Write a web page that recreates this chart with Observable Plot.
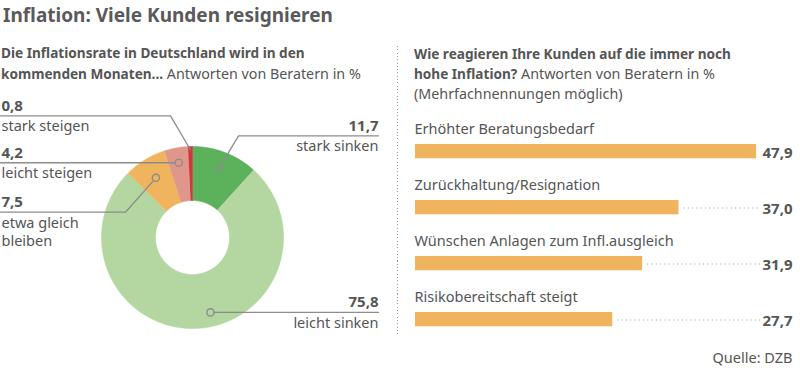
<!DOCTYPE html>
<html><head><meta charset="utf-8">
<script src="https://cdn.jsdelivr.net/npm/d3@7"></script>
<script src="https://cdn.jsdelivr.net/npm/@observablehq/plot@0.6"></script>
<style>
body{margin:0;background:#fff;font-family:"Noto Sans",sans-serif;color:#555;}
#wrap{position:relative;width:800px;height:373px;overflow:hidden;}
.t{position:absolute;white-space:nowrap;}
#title{left:3px;top:3px;font-size:19px;line-height:24px;font-weight:700;color:#5a5a5a;}
#subL{left:1px;top:42px;font-size:14.3px;line-height:21px;}
#subR{left:414px;top:43.5px;font-size:14.3px;line-height:20px;}
b{font-weight:700;font-size:13.6px;}
#sep{position:absolute;left:397px;top:46px;width:1px;height:288px;
 background:repeating-linear-gradient(to bottom,#9a9a9a 0 1px,transparent 1px 3.3px);}
.plot{position:absolute;top:0;}
</style></head>
<body><div id="wrap">
<div class="t" id="title">Inflation: Viele Kunden resignieren</div>
<div class="t" id="subL"><b>Die Inflationsrate in Deutschland wird in den</b><br><b>kommenden Monaten...</b> Antworten von Beratern in %</div>
<div class="t" id="subR"><b>Wie reagieren Ihre Kunden auf die immer noch</b><br><b>hohe Inflation?</b> Antworten von Beratern in %<br>(Mehrfachnennungen möglich)</div>
<div id="sep"></div>
</div>
<script>
// ---------- data ----------
const donutKeys = ["stark sinken", "leicht sinken", "etwa gleich bleiben", "leicht steigen", "stark steigen"];
const donutLabels = [["stark sinken"], ["leicht sinken"], ["etwa gleich", "bleiben"], ["leicht steigen"], ["stark steigen"]];
const donutValues = [11.7, 75.8, 7.5, 4.2, 0.8];
const donutColors = ["#5cb25a", "#b4d6a0", "#f0b35e", "#e0978b", "#d2353c"];

const barCategories = ["Erhöhter Beratungsbedarf", "Zurückhaltung/Resignation", "Wünschen Anlagen zum Infl.ausgleich", "Risikobereitschaft steigt"];
const barValues = [47.9, 37.0, 31.9, 27.7];
const barColor = "#f0b35e";

const fmt = v => d3.format(".1f")(v).replace(".", ",");
const textColor = "#555";
const leaderColor = "#8c8c8c";
const font = "Noto Sans";

// ---------- donut layout ----------
const cx = 192, cy = 237, R = 91, r0 = 37;
// annotation layout per segment (label placement only)
const annot = [
  {side: "right", lineY: 135.3, elbowX: 238, endX: 378, rad: 74, frac: 0.5, dot: true},
  {side: "right", lineY: null, elbowX: null, endX: 378, rad: 77, frac: 0.456, dot: true},
  {side: "left", lineY: 211.7, elbowX: 125, endX: 0, rad: 70, frac: 0.5, dot: true},
  {side: "left", lineY: null, elbowX: null, endX: 0, rad: 76, frac: 0.5, dot: true},
  {side: "left", lineY: 115.3, elbowX: 170, endX: 0, rad: 88, frac: 0.5, dot: false}
];

const arcs = d3.pie().sort(null).value(d => d)(donutValues);
const px = (a, r) => cx + r * Math.sin(a);
const py = (a, r) => cy - r * Math.cos(a);

const wedgePts = [];
arcs.forEach((a, i) => {
  const n = Math.max(4, Math.ceil((a.endAngle - a.startAngle) / 0.01));
  for (let k = 0; k <= n; k++) {
    const t = a.startAngle + (a.endAngle - a.startAngle) * k / n;
    wedgePts.push({key: donutKeys[i], x: px(t, R), y: py(t, R)});
  }
  for (let k = n; k >= 0; k--) {
    const t = a.startAngle + (a.endAngle - a.startAngle) * k / n;
    wedgePts.push({key: donutKeys[i], x: px(t, r0), y: py(t, r0)});
  }
});

const leaderPts = [], dotPts = [], labelTexts = [];
arcs.forEach((a, i) => {
  const L = annot[i];
  const ang = a.startAngle + (a.endAngle - a.startAngle) * L.frac;
  const p = {x: px(ang, L.rad), y: py(ang, L.rad)};
  const lineY = L.lineY == null ? p.y : L.lineY;
  const k = donutKeys[i];
  leaderPts.push({key: k, x: p.x, y: p.y});
  if (L.elbowX != null) leaderPts.push({key: k, x: L.elbowX, y: lineY});
  leaderPts.push({key: k, x: L.endX, y: lineY});
  if (L.dot) dotPts.push({key: k, x: p.x, y: p.y});
  const tx = L.side === "left" ? L.endX + 1 : L.endX;
  labelTexts.push({x: tx, y: lineY - 5, text: fmt(donutValues[i]), bold: true, side: L.side});
  donutLabels[i].forEach((s, j) => labelTexts.push({x: tx, y: lineY + 15.5 + j * 18.3, text: s, bold: false, side: L.side}));
});

const textMarks = [];
for (const side of ["left", "right"]) {
  const anchor = side === "left" ? "start" : "end";
  textMarks.push(
    Plot.text(labelTexts.filter(d => d.bold && d.side === side), {x: "x", y: "y", text: "text", textAnchor: anchor, lineAnchor: "bottom", fontSize: 15, fontWeight: 700, fill: textColor}),
    Plot.text(labelTexts.filter(d => !d.bold && d.side === side), {x: "x", y: "y", text: "text", textAnchor: anchor, lineAnchor: "bottom", fontSize: 14.5, fill: textColor})
  );
}

const left = Plot.plot({
  width: 400, height: 373, margin: 0,
  x: {domain: [0, 400], range: [0, 400], axis: null},
  y: {domain: [0, 373], range: [0, 373], axis: null},
  color: {domain: donutKeys, range: donutColors},
  style: {background: "transparent", fontFamily: font, overflow: "visible"},
  marks: [
    Plot.line(wedgePts, {x: "x", y: "y", z: "key", fill: "key", stroke: "key", strokeWidth: 0.6, curve: "linear"}),
    Plot.line(leaderPts, {x: "x", y: "y", z: "key", stroke: leaderColor, strokeWidth: 1.3}),
    Plot.dot(dotPts, {x: "x", y: "y", r: 3.6, stroke: leaderColor, strokeWidth: 1.4, fill: "key"}),
    ...textMarks
  ]
});
left.classList.add("plot");
left.style.left = "0px";
document.getElementById("wrap").appendChild(left);

// ---------- bars ----------
const bars = barCategories.map((c, i) => ({cat: c, value: barValues[i]}));
const xMax = 48.45;
const band = 56.7;
const right = Plot.plot({
  width: 400, height: 373, marginTop: 0, marginLeft: 0, marginRight: 8, marginBottom: 11,
  x: {domain: [0, xMax], range: [15, 360], axis: null},
  y: {type: "band", domain: barCategories, range: [116, 116 + band * 4], padding: 0, axis: null},
  style: {background: "transparent", fontFamily: font, overflow: "visible"},
  marks: [
    Plot.barX(bars, {x: "value", y: "cat", fill: barColor, insetTop: 27, insetBottom: band - 42}),
    Plot.ruleY(bars.filter(d => d.value < xMax - 1), {y: "cat", x1: "value", x2: xMax, dy: 6.5, insetLeft: 5, stroke: "#9a9a9a", strokeWidth: 1, strokeDasharray: "1,3.3"}),
    Plot.text(bars, {x: 0, y: "cat", text: "cat", dx: -1, dy: 17 - band / 2, textAnchor: "start", lineAnchor: "bottom", fontSize: 14.5, fill: textColor}),
    Plot.text(bars, {y: "cat", text: d => fmt(d.value), frameAnchor: "right", dy: 41 - band / 2, textAnchor: "end", lineAnchor: "bottom", fontSize: 15, fontWeight: 700, fill: textColor}),
    Plot.text(["Quelle: DZB"], {frameAnchor: "bottom-right", text: d => d, textAnchor: "end", lineAnchor: "bottom", fontSize: 14.5, fill: textColor})
  ]
});
right.classList.add("plot");
right.style.left = "400px";
document.getElementById("wrap").appendChild(right);
</script>
</body></html>
